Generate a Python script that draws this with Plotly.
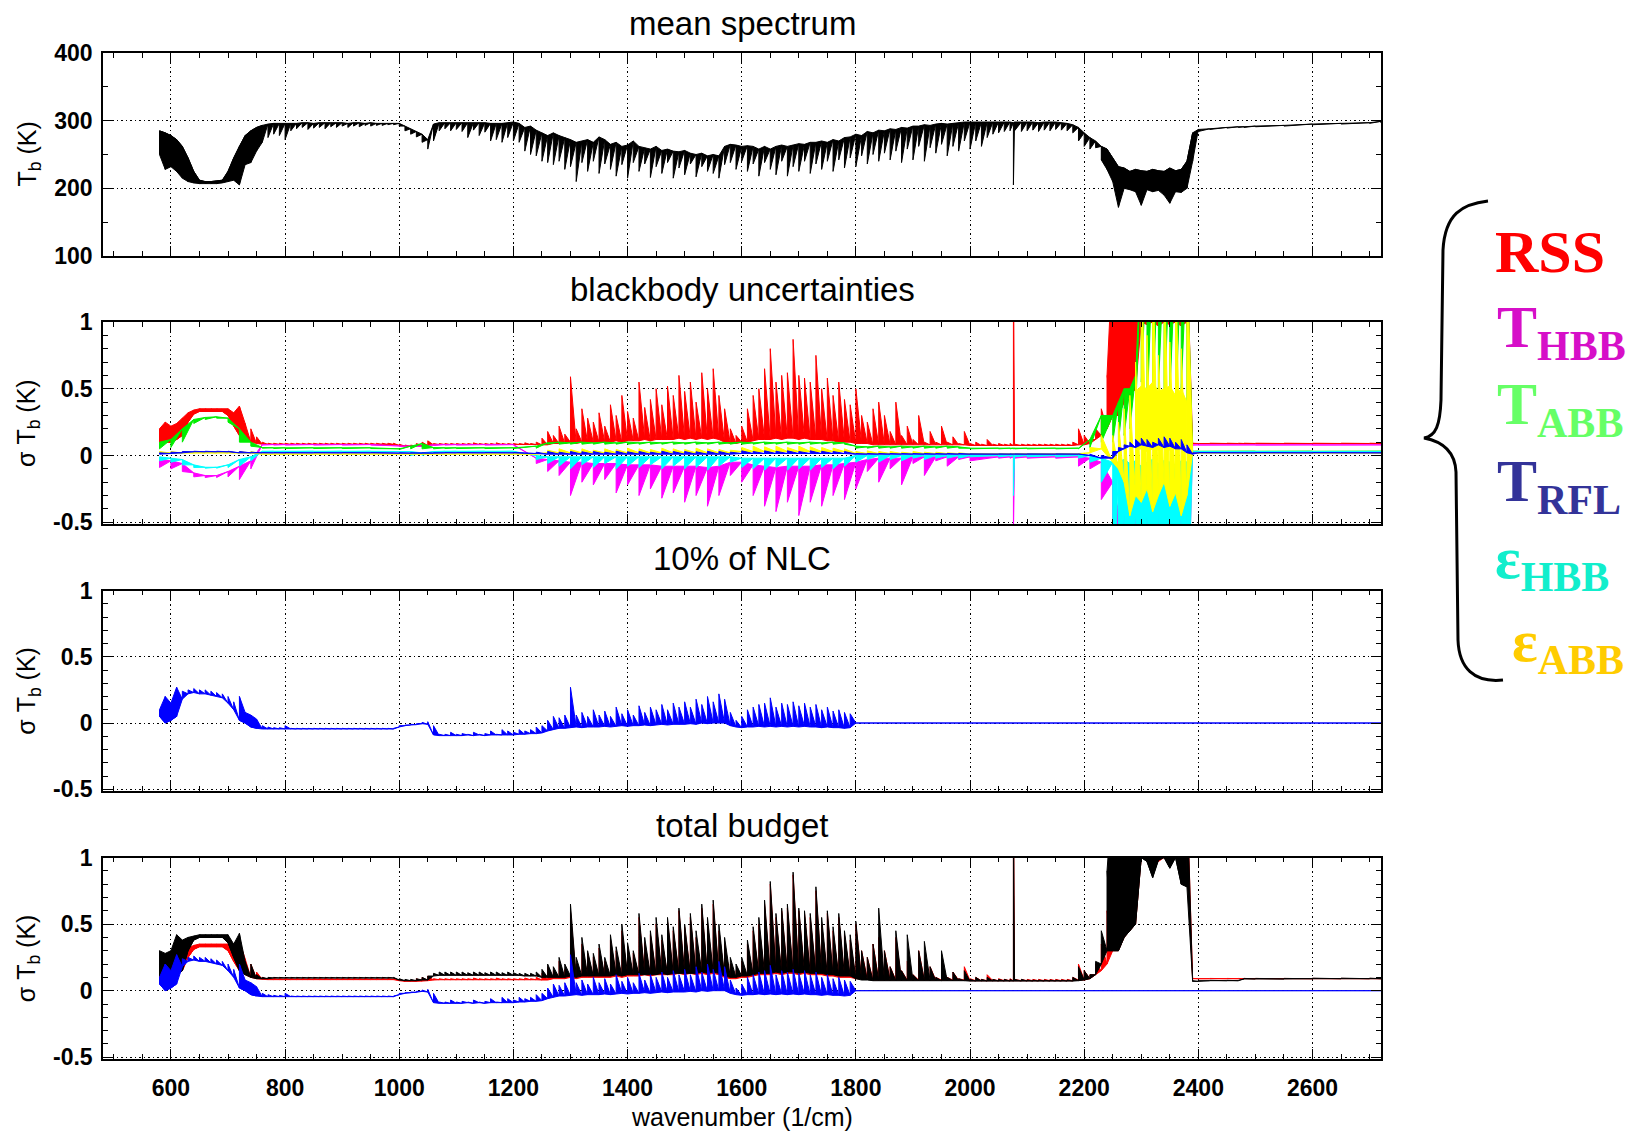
import plotly.graph_objects as go

# ---------------- data ----------------
# common wavenumber grid (1/cm) for the dense spectra
wn = [580, 590,
      600, 610, 620, 630, 640, 650, 660, 670, 680, 690,
      700, 710, 720, 730, 740, 750, 760, 770, 780, 790,
      800, 810, 820, 830, 840, 850, 860, 870, 880, 890,
      900, 910, 920, 930, 940, 950, 960, 970, 980, 990,
      1000, 1010, 1020, 1030, 1040, 1050, 1060, 1070, 1080, 1090,
      1100, 1110, 1120, 1130, 1140, 1150, 1160, 1170, 1180, 1190,
      1200, 1210, 1220, 1230, 1240, 1250, 1260, 1270, 1280, 1290,
      1300, 1310, 1320, 1330, 1340, 1350, 1360, 1370, 1380, 1390,
      1400, 1410, 1420, 1430, 1440, 1450, 1460, 1470, 1480, 1490,
      1500, 1510, 1520, 1530, 1540, 1550, 1560, 1570, 1580, 1590,
      1600, 1610, 1620, 1630, 1640, 1650, 1660, 1670, 1680, 1690,
      1700, 1710, 1720, 1730, 1740, 1750, 1760, 1770, 1780, 1790,
      1800, 1810, 1820, 1830, 1840, 1850, 1860, 1870, 1880, 1890,
      1900, 1910, 1920, 1930, 1940, 1950, 1960, 1970, 1980, 1990,
      2000, 2010, 2020, 2030, 2040, 2050, 2060, 2070, 2076, 2078, 2090,
      2100, 2110, 2120, 2130, 2140, 2150, 2160, 2170, 2180, 2190,
      2200, 2210, 2220, 2230, 2240, 2250, 2260, 2270, 2280, 2290,
      2300, 2310, 2320, 2330, 2340, 2350, 2360, 2370, 2380, 2390,
      2400,
      2420, 2450, 2470, 2480, 2500, 2550, 2600, 2650, 2700, 2720]

# mean spectrum Tb (K): lower / upper envelope per wavenumber
mean_lo = [250, 228,
           232, 225, 215, 210, 208, 207, 207, 207, 207, 208,
           210, 212, 205, 235, 238, 255, 268, 275, 280, 278,
           272, 285, 288, 290, 287, 289, 290, 288, 291, 290,
           292, 290, 292, 291, 293, 292, 293, 293, 294, 294,
           292, 285, 280, 276, 268, 258, 270, 285, 288, 285,
           287, 284, 275, 286, 278, 283, 270, 272, 268, 275,
           270, 268, 255, 250, 248, 240, 238, 235, 240, 228,
           232, 210, 238, 225, 240, 222, 236, 228, 218, 235,
           215, 238, 225, 236, 216, 232, 222, 238, 215, 230,
           220, 236, 217, 232, 225, 222, 215, 235, 238, 228,
           240, 225, 236, 218, 238, 228, 220, 240, 218, 232,
           225, 240, 222, 236, 228, 240, 225, 242, 230, 245,
           232, 248, 236, 250, 240, 252, 242, 255, 238, 258,
           242, 262, 240, 260, 252, 265, 248, 262, 255, 270,
           258, 270, 262, 275, 280, 282, 284, 285, 205, 285, 284,
           285, 286, 284, 286, 285, 287, 286, 285, 282, 270,
           262, 258, 260, 242, 228, 210, 172, 200, 198, 195,
           175, 198, 195, 197, 190, 178, 195, 194, 200, 240,
           284,
           287, 289, 290, 290, 291, 292, 294, 295, 296, 297]
mean_hi = [285, 282,
           278, 272, 262, 245, 225, 212, 210, 210, 211, 212,
           225, 245, 262, 278, 285, 290, 293, 295, 296, 296,
           296, 296, 296, 297, 297, 296, 297, 297, 297, 297,
           297, 296, 297, 297, 296, 297, 296, 296, 296, 296,
           296, 292, 288, 284, 280, 272, 295, 297, 297, 297,
           297, 297, 297, 297, 297, 297, 296, 296, 296, 297,
           298, 296, 290, 292, 286, 282, 278, 282, 278, 275,
           272, 268, 270, 272, 268, 276, 272, 265, 268, 262,
           264, 270, 262, 260, 258, 262, 256, 258, 255, 254,
           256, 252, 250, 252, 248, 250, 248, 262, 265, 264,
           262, 263, 262, 258, 262, 258, 262, 264, 262, 264,
           266, 265, 268, 268, 270, 268, 272, 270, 275, 276,
           280, 278, 284, 282, 286, 285, 288, 287, 290, 289,
           292, 292, 294, 293, 295, 296, 295, 296, 297, 298,
           298, 298, 298, 298, 298, 298, 298, 298, 297, 298, 298,
           298, 298, 297, 298, 298, 298, 297, 296, 294, 290,
           282, 275, 270, 262, 258, 245, 232, 230, 225, 228,
           226, 225, 228, 226, 225, 230, 226, 228, 240, 282,
           287,
           288, 290, 291, 291, 292, 293, 295, 296, 297, 299]

# RSS of blackbody uncertainties (K)
rss_lo = [0.08, 0.10,
          0.10, 0.12, 0.15, 0.25, 0.31, 0.33, 0.33, 0.33, 0.33, 0.33,
          0.30, 0.22, 0.15, 0.12, 0.10, 0.09, 0.085, 0.083, 0.083, 0.083,
          0.083, 0.083, 0.083, 0.083, 0.083, 0.083, 0.083, 0.083, 0.083, 0.083,
          0.083, 0.083, 0.083, 0.083, 0.083, 0.083, 0.083, 0.083, 0.083, 0.083,
          0.075, 0.07, 0.07, 0.07, 0.072, 0.075, 0.08, 0.082, 0.082, 0.082,
          0.082, 0.082, 0.082, 0.082, 0.082, 0.082, 0.082, 0.082, 0.082, 0.082,
          0.082, 0.082, 0.082, 0.082, 0.082, 0.08, 0.08, 0.09, 0.09, 0.09,
          0.10, 0.09, 0.10, 0.10, 0.10, 0.10, 0.10, 0.10, 0.11, 0.10,
          0.11, 0.11, 0.11, 0.12, 0.11, 0.12, 0.12, 0.12, 0.12, 0.13,
          0.12, 0.13, 0.12, 0.13, 0.12, 0.13, 0.12, 0.10, 0.09, 0.09,
          0.10, 0.10, 0.11, 0.12, 0.12, 0.12, 0.13, 0.12, 0.13, 0.13,
          0.12, 0.13, 0.12, 0.12, 0.12, 0.11, 0.11, 0.10, 0.10, 0.10,
          0.09, 0.09, 0.09, 0.08, 0.08, 0.08, 0.08, 0.08, 0.08, 0.08,
          0.08, 0.08, 0.08, 0.08, 0.08, 0.08, 0.08, 0.08, 0.08, 0.08,
          0.075, 0.075, 0.075, 0.075, 0.075, 0.075, 0.075, 0.075, 0.075, 0.075, 0.075,
          0.075, 0.075, 0.075, 0.075, 0.075, 0.075, 0.075, 0.075, 0.075, 0.08,
          0.08, 0.09, 0.12, 0.15, 0.20, 0.30, 0.30, 0.40, 0.45, 0.50,
          1.00, 0.98, 1.00, 0.97, 1.00, 0.98, 1.00, 0.97, 1.00, 0.09,
          0.09,
          0.09, 0.09, 0.09, 0.09, 0.09, 0.09, 0.09, 0.09, 0.09, 0.09]
rss_hi = [0.20, 0.25,
          0.22, 0.24, 0.28, 0.32, 0.34, 0.35, 0.35, 0.35, 0.35, 0.35,
          0.35, 0.32, 0.37, 0.24, 0.20, 0.14, 0.10, 0.092, 0.092, 0.092,
          0.092, 0.092, 0.092, 0.092, 0.092, 0.092, 0.092, 0.092, 0.092, 0.092,
          0.092, 0.092, 0.092, 0.092, 0.092, 0.092, 0.092, 0.092, 0.092, 0.092,
          0.085, 0.078, 0.078, 0.09, 0.10, 0.11, 0.09, 0.09, 0.09, 0.09,
          0.09, 0.09, 0.09, 0.095, 0.09, 0.09, 0.09, 0.095, 0.09, 0.09,
          0.09, 0.09, 0.095, 0.09, 0.10, 0.13, 0.18, 0.15, 0.22, 0.16,
          0.59, 0.20, 0.35, 0.28, 0.25, 0.32, 0.22, 0.38, 0.30, 0.45,
          0.33, 0.28, 0.55, 0.36, 0.42, 0.50, 0.38, 0.52, 0.45, 0.60,
          0.48, 0.55, 0.40, 0.62, 0.50, 0.65, 0.45, 0.35, 0.20, 0.15,
          0.22, 0.35, 0.45, 0.50, 0.65, 0.80, 0.55, 0.60, 0.62, 0.87,
          0.60, 0.58, 0.55, 0.75, 0.50, 0.58, 0.45, 0.55, 0.42, 0.38,
          0.50, 0.30, 0.25, 0.35, 0.40, 0.30, 0.18, 0.40, 0.15, 0.22,
          0.12, 0.30, 0.10, 0.18, 0.10, 0.22, 0.10, 0.14, 0.09, 0.18,
          0.09, 0.10, 0.085, 0.12, 0.085, 0.09, 0.085, 0.09, 1.50, 0.085, 0.085,
          0.085, 0.085, 0.085, 0.085, 0.085, 0.085, 0.085, 0.085, 0.10, 0.20,
          0.15, 0.12, 0.20, 0.35, 0.60, 1.50, 1.50, 1.50, 1.50, 1.50,
          1.50, 1.50, 1.50, 1.50, 1.50, 1.50, 1.50, 1.50, 1.50, 0.092,
          0.09,
          0.092, 0.092, 0.092, 0.092, 0.092, 0.092, 0.092, 0.092, 0.092, 0.092]

# total budget (K)
total_lo = [0.11, 0.10,
            0.10, 0.12, 0.15, 0.30, 0.38, 0.40, 0.40, 0.40, 0.40, 0.40,
            0.36, 0.25, 0.15, 0.12, 0.10, 0.09, 0.09, 0.09, 0.095, 0.095,
            0.095, 0.095, 0.095, 0.095, 0.095, 0.095, 0.095, 0.095, 0.095, 0.095,
            0.095, 0.095, 0.095, 0.095, 0.095, 0.095, 0.095, 0.095, 0.095, 0.095,
            0.08, 0.075, 0.075, 0.075, 0.08, 0.08, 0.11, 0.115, 0.115, 0.115,
            0.115, 0.115, 0.115, 0.115, 0.115, 0.115, 0.115, 0.115, 0.115, 0.115,
            0.115, 0.115, 0.11, 0.11, 0.11, 0.10, 0.10, 0.10, 0.10, 0.10,
            0.11, 0.10, 0.11, 0.11, 0.11, 0.11, 0.11, 0.11, 0.12, 0.11,
            0.12, 0.12, 0.12, 0.12, 0.12, 0.12, 0.13, 0.12, 0.13, 0.13,
            0.13, 0.13, 0.13, 0.14, 0.13, 0.14, 0.13, 0.11, 0.10, 0.10,
            0.11, 0.11, 0.12, 0.13, 0.13, 0.13, 0.14, 0.13, 0.14, 0.14,
            0.13, 0.14, 0.13, 0.13, 0.13, 0.12, 0.12, 0.11, 0.11, 0.11,
            0.09, 0.08, 0.08, 0.075, 0.075, 0.075, 0.075, 0.075, 0.075, 0.075,
            0.075, 0.075, 0.075, 0.075, 0.075, 0.075, 0.075, 0.075, 0.075, 0.075,
            0.072, 0.072, 0.072, 0.072, 0.072, 0.072, 0.072, 0.072, 0.072, 0.072, 0.072,
            0.072, 0.072, 0.072, 0.072, 0.072, 0.072, 0.072, 0.072, 0.072, 0.075,
            0.08, 0.09, 0.12, 0.20, 0.30, 0.30, 0.30, 0.40, 0.45, 0.50,
            1.00, 0.97, 0.85, 0.98, 1.00, 0.92, 1.00, 0.80, 0.78, 0.07,
            0.07,
            0.075, 0.075, 0.075, 0.088, 0.088, 0.088, 0.09, 0.09, 0.09, 0.09]
total_hi = [0.30, 0.28,
            0.30, 0.42, 0.38, 0.40, 0.41, 0.42, 0.42, 0.42, 0.42, 0.42,
            0.42, 0.35, 0.43, 0.22, 0.20, 0.12, 0.10, 0.10, 0.10, 0.10,
            0.10, 0.10, 0.10, 0.10, 0.10, 0.10, 0.10, 0.10, 0.10, 0.10,
            0.10, 0.10, 0.10, 0.10, 0.10, 0.10, 0.10, 0.10, 0.10, 0.10,
            0.09, 0.085, 0.085, 0.09, 0.10, 0.11, 0.13, 0.14, 0.14, 0.14,
            0.14, 0.14, 0.135, 0.14, 0.14, 0.135, 0.14, 0.14, 0.135, 0.14,
            0.135, 0.13, 0.13, 0.13, 0.14, 0.16, 0.20, 0.18, 0.25, 0.20,
            0.65, 0.25, 0.40, 0.30, 0.28, 0.35, 0.25, 0.42, 0.33, 0.50,
            0.36, 0.30, 0.58, 0.40, 0.45, 0.55, 0.42, 0.55, 0.48, 0.62,
            0.50, 0.58, 0.45, 0.65, 0.55, 0.68, 0.50, 0.40, 0.25, 0.20,
            0.25, 0.38, 0.48, 0.55, 0.68, 0.82, 0.58, 0.62, 0.65, 0.89,
            0.62, 0.60, 0.58, 0.78, 0.55, 0.60, 0.48, 0.58, 0.45, 0.42,
            0.52, 0.30, 0.25, 0.35, 0.62, 0.30, 0.18, 0.45, 0.15, 0.42,
            0.12, 0.30, 0.37, 0.18, 0.10, 0.30, 0.10, 0.14, 0.09, 0.15,
            0.085, 0.10, 0.085, 0.10, 0.085, 0.085, 0.085, 0.085, 1.50, 0.085, 0.085,
            0.08, 0.08, 0.08, 0.08, 0.08, 0.08, 0.08, 0.08, 0.10, 0.18,
            0.15, 0.12, 0.22, 0.45, 0.90, 1.50, 1.50, 1.50, 1.50, 1.50,
            1.50, 1.50, 1.50, 1.50, 1.50, 1.50, 1.50, 1.50, 1.50, 0.075,
            0.075,
            0.078, 0.078, 0.078, 0.092, 0.092, 0.092, 0.094, 0.094, 0.094, 0.094]

# 10% of non-linearity correction (K): 580-1790 dense, then flat zero to 2720
nlc_wn_tail = [1800, 2720]
nlc_lo = [0.05, 0.00,
          0.02, 0.05, 0.18, 0.22, 0.23, 0.22, 0.22, 0.21, 0.20, 0.19,
          0.15, 0.10, 0.02, 0.00, -0.03, -0.04, -0.045, -0.045, -0.045, -0.045,
          -0.045, -0.045, -0.045, -0.045, -0.045, -0.045, -0.045, -0.045, -0.045, -0.045,
          -0.045, -0.045, -0.045, -0.045, -0.045, -0.045, -0.045, -0.045, -0.045, -0.045,
          -0.03, -0.02, -0.015, -0.012, -0.005, -0.01, -0.09, -0.095, -0.095, -0.095,
          -0.095, -0.095, -0.09, -0.095, -0.09, -0.095, -0.09, -0.09, -0.09, -0.09,
          -0.09, -0.085, -0.085, -0.08, -0.08, -0.075, -0.06, -0.05, -0.04, -0.04,
          -0.035, -0.03, -0.035, -0.03, -0.03, -0.03, -0.025, -0.03, -0.025, -0.02,
          -0.025, -0.02, -0.02, -0.015, -0.02, -0.015, -0.01, -0.015, -0.01, -0.01,
          -0.01, -0.005, -0.01, 0.0, -0.005, 0.0, 0.0, 0.0, -0.02, -0.03,
          -0.035, -0.03, -0.03, -0.025, -0.03, -0.025, -0.03, -0.025, -0.03, -0.025,
          -0.03, -0.025, -0.03, -0.03, -0.035, -0.03, -0.035, -0.035, -0.04, -0.035,
          0.0, 0.0]
nlc_hi = [0.10, 0.20,
          0.15, 0.27, 0.24, 0.25, 0.26, 0.25, 0.25, 0.24, 0.23, 0.22,
          0.20, 0.16, 0.20, 0.08, 0.06, 0.03, -0.02, -0.03, -0.035, -0.035,
          -0.02, -0.04, -0.04, -0.04, -0.04, -0.04, -0.04, -0.04, -0.04, -0.04,
          -0.04, -0.04, -0.04, -0.04, -0.04, -0.04, -0.04, -0.04, -0.04, -0.04,
          -0.02, -0.015, -0.01, -0.005, 0.005, 0.01, -0.02, -0.085, -0.085, -0.07,
          -0.085, -0.08, -0.085, -0.07, -0.085, -0.08, -0.06, -0.085, -0.05, -0.06,
          -0.07, -0.05, -0.06, -0.05, -0.03, -0.02, 0.02, 0.05, 0.04, 0.06,
          0.27, 0.06, 0.08, 0.05, 0.10, 0.06, 0.09, 0.05, 0.12, 0.07,
          0.10, 0.06, 0.13, 0.08, 0.12, 0.10, 0.14, 0.10, 0.15, 0.12,
          0.16, 0.12, 0.18, 0.14, 0.20, 0.16, 0.22, 0.18, 0.08, 0.02,
          0.05, 0.10, 0.12, 0.14, 0.15, 0.19, 0.12, 0.15, 0.14, 0.16,
          0.13, 0.15, 0.12, 0.14, 0.10, 0.12, 0.09, 0.10, 0.08, 0.07,
          0.0, 0.0]

# coarser grid for the individual blackbody terms
wn_bb = [580, 600, 620, 640, 660, 680, 700, 720, 740, 760, 780,
         800, 850, 900, 950, 1000, 1020, 1040, 1060, 1080, 1100, 1150, 1200, 1240,
         1260, 1280, 1300, 1320, 1340, 1360, 1380, 1400, 1420, 1440,
         1460, 1480, 1500, 1520, 1540, 1560, 1580, 1600, 1620, 1640,
         1660, 1680, 1700, 1720, 1740, 1760, 1780, 1800, 1820, 1840,
         1860, 1880, 1900, 1920, 1940, 1960, 1980,
         2000, 2050, 2070, 2076, 2078, 2100, 2150, 2190, 2210, 2230, 2250,
         2260, 2270, 2280, 2290, 2300, 2310, 2320, 2330, 2340, 2350, 2360, 2370, 2380,
         2390, 2400, 2500, 2600, 2720]

thbb_lo = [-0.09, -0.10, -0.12, -0.16, -0.165, -0.165, -0.16, -0.18, -0.10, 0.078, 0.078,
           0.078, 0.078, 0.078, 0.078, 0.068, 0.066, 0.066, 0.075, 0.078, 0.078, 0.078, 0.078, -0.06,
           -0.12, -0.15, -0.30, -0.20, -0.22, -0.18, -0.28, -0.22, -0.30, -0.25,
           -0.32, -0.28, -0.35, -0.30, -0.38, -0.30, -0.15, -0.20, -0.30, -0.38,
           -0.42, -0.35, -0.45, -0.35, -0.38, -0.30, -0.33, -0.25, -0.12, -0.20,
           -0.10, -0.22, -0.06, -0.15, -0.04, -0.08, -0.03,
           -0.04, -0.02, -0.02, -0.60, -0.02, -0.02, -0.02, -0.08, -0.10, -0.33, -1.5,
           -1.5, -1.5, -1.5, -1.5, -1.5, -1.5, -1.5, -1.5, -1.5, -1.5, -1.5, -1.5, -1.5,
           0.078, 0.078, 0.078, 0.078, 0.078]
thbb_hi = [-0.03, -0.04, -0.06, -0.13, -0.15, -0.15, -0.12, -0.08, -0.04, 0.082, 0.082,
           0.082, 0.082, 0.082, 0.082, 0.072, 0.07, 0.07, 0.08, 0.082, 0.082, 0.082, 0.082, -0.02,
           -0.03, -0.04, -0.05, -0.05, -0.06, -0.06, -0.06, -0.07, -0.07, -0.07,
           -0.08, -0.08, -0.08, -0.08, -0.09, -0.08, -0.05, -0.05, -0.07, -0.08,
           -0.09, -0.08, -0.08, -0.08, -0.07, -0.07, -0.06, -0.05, -0.03, -0.02,
           -0.02, -0.02, -0.01, -0.01, -0.01, -0.01, -0.01,
           -0.01, -0.01, -0.01, -0.01, -0.01, -0.01, -0.01, -0.01, -0.02, -0.05, -0.20,
           -0.42, -0.40, -0.45, -0.42, -0.40, -0.44, -0.42, -0.40, -0.45, -0.42, -0.40, -0.44, -0.42,
           0.08, 0.08, 0.08, 0.08, 0.08]

tabb_lo = [0.05, 0.06, 0.10, 0.24, 0.27, 0.28, 0.25, 0.10, 0.07, 0.055, 0.052,
           0.052, 0.052, 0.052, 0.052, 0.045, 0.05, 0.05, 0.05, 0.052, 0.052, 0.052, 0.052, 0.055,
           0.085, 0.085, 0.085, 0.085, 0.085, 0.085, 0.085, 0.085, 0.085, 0.085,
           0.085, 0.085, 0.085, 0.085, 0.085, 0.085, 0.085, 0.085, 0.085, 0.085,
           0.085, 0.085, 0.085, 0.085, 0.085, 0.085, 0.085, 0.055, 0.055, 0.055,
           0.055, 0.055, 0.055, 0.055, 0.055, 0.055, 0.055,
           0.05, 0.05, 0.05, 0.05, 0.05, 0.05, 0.05, 0.05, 0.06, 0.10, 0.10,
           0.10, 0.15, 0.20, 0.30, 0.55, 0.30, 0.40, 0.50, 0.35, 0.45, 0.30, 0.50, 0.40,
           0.03, 0.03, 0.03, 0.03, 0.03]
tabb_hi = [0.10, 0.12, 0.20, 0.27, 0.285, 0.29, 0.28, 0.20, 0.10, 0.06, 0.058,
           0.058, 0.058, 0.058, 0.058, 0.05, 0.07, 0.09, 0.06, 0.058, 0.058, 0.058, 0.058, 0.07,
           0.095, 0.10, 0.095, 0.10, 0.095, 0.10, 0.095, 0.10, 0.095, 0.10,
           0.095, 0.10, 0.095, 0.10, 0.095, 0.10, 0.095, 0.10, 0.095, 0.10,
           0.095, 0.10, 0.095, 0.10, 0.095, 0.10, 0.095, 0.07, 0.065, 0.07,
           0.065, 0.07, 0.065, 0.07, 0.065, 0.07, 0.065,
           0.055, 0.055, 0.055, 0.055, 0.055, 0.055, 0.055, 0.055, 0.12, 0.30, 0.30,
           0.40, 0.50, 0.50, 0.60, 1.5, 1.5, 1.5, 1.5, 1.5, 1.5, 1.5, 1.5, 1.5,
           0.032, 0.032, 0.032, 0.032, 0.032]

trfl_lo = [0.01, 0.015, 0.02, 0.028, 0.028, 0.028, 0.028, 0.02, 0.02, 0.02, 0.02,
           0.02, 0.02, 0.02, 0.02, 0.018, 0.018, 0.018, 0.018, 0.02, 0.02, 0.02, 0.02, 0.015,
           0.01, 0.01, 0.01, 0.01, 0.01, 0.01, 0.01, 0.01, 0.01, 0.01,
           0.01, 0.01, 0.01, 0.01, 0.01, 0.01, 0.01, 0.015, 0.015, 0.015,
           0.015, 0.015, 0.015, 0.015, 0.015, 0.015, 0.015, 0.01, 0.01, 0.01,
           0.01, 0.01, 0.01, 0.01, 0.01, 0.01, 0.01,
           0.01, 0.01, 0.01, 0.01, 0.01, 0.01, 0.01, 0.01, 0.0, -0.02, -0.02,
           0.03, 0.05, 0.07, 0.06, 0.08, 0.07, 0.06, 0.08, 0.06, 0.07, 0.05, 0.05, 0.02,
           0.01, 0.02, 0.02, 0.02, 0.02]
trfl_hi = [0.02, 0.025, 0.03, 0.032, 0.032, 0.032, 0.032, 0.03, 0.025, 0.022, 0.022,
           0.022, 0.022, 0.022, 0.022, 0.02, 0.02, 0.02, 0.02, 0.022, 0.022, 0.022, 0.022, 0.025,
           0.03, 0.025, 0.03, 0.028, 0.03, 0.025, 0.032, 0.028, 0.03, 0.025,
           0.032, 0.03, 0.03, 0.028, 0.032, 0.03, 0.025, 0.035, 0.03, 0.035,
           0.032, 0.035, 0.03, 0.035, 0.032, 0.03, 0.03, 0.015, 0.015, 0.015,
           0.015, 0.015, 0.015, 0.015, 0.015, 0.015, 0.015,
           0.012, 0.012, 0.012, 0.012, 0.012, 0.012, 0.012, 0.012, 0.01, 0.0, 0.03,
           0.06, 0.08, 0.10, 0.12, 0.13, 0.12, 0.10, 0.13, 0.14, 0.13, 0.10, 0.12, 0.08,
           0.02, 0.022, 0.022, 0.022, 0.022]

ehbb_lo = [-0.04, -0.05, -0.07, -0.09, -0.095, -0.095, -0.09, -0.08, -0.04, 0.028, 0.028,
           0.028, 0.028, 0.028, 0.028, 0.025, 0.0, 0.0, 0.02, 0.028, 0.028, 0.028, 0.028, -0.03,
           -0.06, -0.08, -0.10, -0.07, -0.09, -0.06, -0.10, -0.08, -0.09, -0.07,
           -0.10, -0.08, -0.10, -0.09, -0.11, -0.08, -0.05, -0.09, -0.10, -0.11,
           -0.09, -0.11, -0.10, -0.11, -0.09, -0.10, -0.08, -0.05, -0.03, -0.05,
           -0.03, -0.04, -0.02, -0.03, -0.02, -0.02, -0.02,
           -0.01, -0.01, -0.01, -0.30, -0.01, -0.01, -0.01, -0.02, -0.05, -0.20, -1.5,
           -1.5, -0.45, -1.5, -0.42, -1.5, -0.46, -1.5, -0.44, -1.5, -0.45, -1.5, -0.43, -1.5,
           0.026, 0.026, 0.026, 0.026, 0.026]
ehbb_hi = [-0.01, -0.02, -0.03, -0.07, -0.088, -0.088, -0.07, -0.03, -0.01, 0.032, 0.032,
           0.032, 0.032, 0.032, 0.032, 0.03, 0.03, 0.02, 0.03, 0.032, 0.032, 0.032, 0.032, 0.0,
           -0.01, -0.01, -0.01, -0.01, -0.01, -0.01, -0.01, -0.01, -0.01, -0.01,
           -0.01, -0.01, -0.01, -0.01, -0.01, -0.01, -0.01, -0.02, -0.02, -0.02,
           -0.02, -0.02, -0.02, -0.02, -0.02, -0.02, -0.02, 0.0, 0.0, 0.0,
           0.0, 0.0, 0.0, 0.0, 0.0, 0.0, 0.0,
           0.0, 0.0, 0.0, 0.0, 0.0, 0.0, 0.0, 0.0, 0.0, -0.02, -0.05,
           -0.05, -0.03, -0.06, -0.04, -0.08, -0.05, -0.03, -0.06, -0.04, -0.05, -0.07, -0.04, -0.05,
           0.03, 0.03, 0.03, 0.03, 0.03]

eabb_lo = [0.018, 0.018, 0.018, 0.018, 0.018, 0.018, 0.018, 0.018, 0.018, 0.01, 0.01,
           0.01, 0.01, 0.01, 0.01, 0.01, 0.01, 0.01, 0.01, 0.01, 0.01, 0.01, 0.01, 0.01,
           0.02, 0.02, 0.02, 0.02, 0.02, 0.02, 0.02, 0.02, 0.02, 0.02,
           0.02, 0.02, 0.02, 0.02, 0.02, 0.02, 0.02, 0.03, 0.03, 0.03,
           0.03, 0.03, 0.03, 0.03, 0.03, 0.03, 0.03, 0.015, 0.015, 0.015,
           0.015, 0.015, 0.015, 0.015, 0.015, 0.015, 0.015,
           0.012, 0.012, 0.012, 0.012, 0.012, 0.012, 0.012, 0.012, 0.02, 0.05, -0.05,
           -0.10, -0.20, -0.45, -0.30, -0.35, -0.25, -0.42, -0.30, -0.20, -0.38, -0.28, -0.45, -0.30,
           0.018, 0.018, 0.018, 0.018, 0.018]
eabb_hi = [0.03, 0.03, 0.03, 0.03, 0.03, 0.03, 0.03, 0.03, 0.03, 0.013, 0.013,
           0.013, 0.013, 0.013, 0.013, 0.013, 0.013, 0.013, 0.013, 0.013, 0.013, 0.013, 0.013, 0.013,
           0.04, 0.05, 0.045, 0.05, 0.04, 0.05, 0.045, 0.055, 0.05, 0.045,
           0.055, 0.05, 0.045, 0.055, 0.05, 0.045, 0.04, 0.06, 0.07, 0.065,
           0.07, 0.06, 0.07, 0.065, 0.06, 0.055, 0.05, 0.03, 0.035, 0.03,
           0.03, 0.025, 0.03, 0.025, 0.025, 0.02, 0.02,
           0.015, 0.015, 0.015, 0.015, 0.015, 0.015, 0.015, 0.015, 0.06, 0.15, 0.15,
           0.25, 0.35, 0.45, 0.70, 1.5, 0.9, 1.5, 0.75, 1.5, 0.85, 1.5, 0.8, 1.5,
           0.02, 0.02, 0.02, 0.02, 0.02]
# the densely filled core of the eps_ABB term inside the saturated CO2 band
eabb_core_wn = [2290, 2300, 2310, 2320, 2330, 2340, 2350, 2360, 2370, 2380]
eabb_core_lo = [0.04, 0.05, 0.03, 0.05, 0.04, 0.06, 0.04, 0.05, 0.06, 0.08]
eabb_core_hi = [0.48, 0.52, 0.50, 0.55, 0.48, 0.50, 0.52, 0.45, 0.50, 0.40]

panel_titles = ["mean spectrum", "blackbody uncertainties", "10% of NLC", "total budget"]
legend_items = [("RSS", "", "#ff0000"), ("T", "HBB", "#d60fc8"), ("T", "ABB", "#66ff66"),
                ("T", "RFL", "#333399"), ("\u03b5", "HBB", "#11eecc"), ("\u03b5", "ABB", "#ffcc00")]

# ---------------- sanity checks ----------------
nlc_wn = [w for w in wn if w < 1800] + nlc_wn_tail
for name, xs, a, b in [("mean", wn, mean_lo, mean_hi), ("rss", wn, rss_lo, rss_hi),
                       ("total", wn, total_lo, total_hi), ("nlc", nlc_wn, nlc_lo, nlc_hi),
                       ("thbb", wn_bb, thbb_lo, thbb_hi), ("tabb", wn_bb, tabb_lo, tabb_hi),
                       ("trfl", wn_bb, trfl_lo, trfl_hi), ("ehbb", wn_bb, ehbb_lo, ehbb_hi),
                       ("eabb", wn_bb, eabb_lo, eabb_hi),
                       ("core", eabb_core_wn, eabb_core_lo, eabb_core_hi)]:
    assert len(xs) == len(a) == len(b), (name, len(xs), len(a), len(b))


def spike_area(x, lo, hi, down):
    """Spectral lines drawn as sharp spikes rising from the base envelope: at each sample a
    vertical edge to the spike envelope, then back to the next base value; closed along the base."""
    pts = list(zip(x, lo, hi))
    xs, ys = [], []
    for w, a, b in pts:
        base, tip = (b, a) if down else (a, b)
        xs += [w, w]
        ys += [base, tip]
    for w, a, b in reversed(pts):
        xs.append(w)
        ys.append(b if down else a)
    return xs, ys


def band(x, lo, hi, xmin, xmax):
    """Closed outline between the two envelopes inside [xmin, xmax] (dense, solid-looking parts)."""
    sel = [(w, a, b) for w, a, b in zip(x, lo, hi) if xmin <= w <= xmax]
    xs = [s[0] for s in sel] + [s[0] for s in sel[::-1]]
    ys = [s[2] for s in sel] + [s[1] for s in sel[::-1]]
    return xs, ys


# ---------------- layout geometry (pixels) ----------------
W, H = 1636, 1132
L, R, T, B = 103, 1381, 53, 1059
panels_px = [(53, 256), (322, 524), (590.5, 791), (857.5, 1059)]


def fx(p):
    return (p - L) / (R - L)


def fy(p):
    return (B - p) / (B - T)


fig = go.Figure()


def axes(n):
    return ("x" if n == 1 else f"x{n}"), ("y" if n == 1 else f"y{n}")


def add_spikes(x, lo, hi, color, n, down=False, width=1.0):
    xs, ys = spike_area(x, lo, hi, down)
    xa, ya = axes(n)
    fig.add_trace(go.Scatter(x=xs, y=ys, mode="lines", fill="toself", fillcolor=color,
                             line=dict(color=color, width=width, simplify=False),
                             xaxis=xa, yaxis=ya, hoverinfo="skip", showlegend=False))


def add_band(x, lo, hi, color, n, xmin, xmax, width=1.0):
    xs, ys = band(x, lo, hi, xmin, xmax)
    xa, ya = axes(n)
    fig.add_trace(go.Scatter(x=xs, y=ys, mode="lines", fill="toself", fillcolor=color,
                             line=dict(color=color, width=width, simplify=False),
                             xaxis=xa, yaxis=ya, hoverinfo="skip", showlegend=False))


# panel 1: mean spectrum
add_band(wn, mean_lo, mean_hi, "black", 1, 580, 760)
add_band(wn, mean_lo, mean_hi, "black", 1, 2230, 2390)
add_spikes(wn, mean_lo, mean_hi, "black", 1, down=True)

# panel 2: blackbody uncertainty terms
add_spikes(wn, rss_lo, rss_hi, "#ff0000", 2)
add_band(wn, rss_lo, rss_hi, "#ff0000", 2, 580, 730)
add_band(wn, rss_lo, rss_hi, "#ff0000", 2, 2240, 2295)
add_spikes(wn_bb, thbb_lo, thbb_hi, "#ff00ff", 2, down=True)
add_spikes(wn_bb, tabb_lo, tabb_hi, "#00ee00", 2, down=True)
add_spikes(wn_bb, ehbb_lo, ehbb_hi, "#00ffff", 2, down=True)
add_band(wn_bb, ehbb_lo, ehbb_hi, "#00ffff", 2, 2260, 2380)
add_band(eabb_core_wn, eabb_core_lo, eabb_core_hi, "#ffff00", 2, 2290, 2380)
add_spikes(wn_bb, eabb_lo, eabb_hi, "#ffff00", 2)
add_spikes(wn_bb, trfl_lo, trfl_hi, "#0000ff", 2)

# panel 3: NLC
add_band(nlc_wn, nlc_lo, nlc_hi, "#0000ff", 3, 580, 610)
add_band(nlc_wn, nlc_lo, nlc_hi, "#0000ff", 3, 720, 750)
add_spikes(nlc_wn, nlc_lo, nlc_hi, "#0000ff", 3)

# panel 4: total budget
add_spikes(wn, rss_lo, rss_hi, "#ff0000", 4)
add_band(wn, rss_lo, rss_hi, "#ff0000", 4, 580, 730)
add_spikes(wn, total_lo, total_hi, "black", 4)
add_band(wn, total_lo, total_hi, "black", 4, 580, 730)
add_band(wn, total_lo, total_hi, "black", 4, 2240, 2380)
add_band(nlc_wn, nlc_lo, nlc_hi, "#0000ff", 4, 580, 610)
add_band(nlc_wn, nlc_lo, nlc_hi, "#0000ff", 4, 720, 750)
add_spikes(nlc_wn, nlc_lo, nlc_hi, "#0000ff", 4)

tickfont = dict(family="Liberation Sans, Arial, sans-serif", size=23, color="black", weight="bold")
common = dict(showline=True, linecolor="black", linewidth=1.5, mirror="allticks",
              ticks="inside", ticklen=10, tickwidth=1.2, tickcolor="black",
              showgrid=True, gridcolor="black", griddash="1.5px,3px", gridwidth=1, zeroline=False,
              tickfont=tickfont, fixedrange=True)

layout = dict(width=W, height=H, margin=dict(l=L, r=W - R, t=T, b=H - B, pad=0),
              paper_bgcolor="white", plot_bgcolor="white", showlegend=False,
              font=dict(family="Liberation Sans, Arial, sans-serif", color="black"))

for i, (top, bot) in enumerate(panels_px, start=1):
    xa = "xaxis" if i == 1 else f"xaxis{i}"
    ya = "yaxis" if i == 1 else f"yaxis{i}"
    layout[xa] = dict(common, domain=[0, 1], anchor="y" if i == 1 else f"y{i}",
                      range=[481, 2720], tickmode="linear", tick0=0, dtick=200,
                      showticklabels=(i == 4), ticklabelstandoff=8,
                      minor=dict(ticks="inside", ticklen=5, tickwidth=1, tickcolor="black",
                                 tickmode="linear", tick0=0, dtick=50, showgrid=False))
    if i == 1:
        yrange = dict(range=[100, 400], tickmode="linear", tick0=0, dtick=100,
                      minor=dict(ticks="inside", ticklen=5, tickwidth=1, tickcolor="black",
                                 tickmode="linear", tick0=0, dtick=50, showgrid=False))
    else:
        yrange = dict(range=[-0.513, 1.0], tickmode="array", tickvals=[-0.5, 0, 0.5, 1],
                      ticktext=["-0.5", "0", "0.5", "1"],
                      minor=dict(ticks="inside", ticklen=5, tickwidth=1, tickcolor="black",
                                 tickmode="linear", tick0=0, dtick=0.1, showgrid=False))
    layout[ya] = dict(common, domain=[fy(bot), fy(top)], anchor="x" if i == 1 else f"x{i}",
                      ticklabelstandoff=4, **yrange)

annotations = []
title_y = [24, 290, 558, 825]
for t, yy in zip(panel_titles, title_y):
    annotations.append(dict(text=t, x=fx(742), y=fy(yy), xref="paper", yref="paper",
                            xanchor="center", yanchor="middle", showarrow=False,
                            font=dict(size=33, color="black")))
ytitles = ["T<sub>b</sub> (K)", "\u03c3 T<sub>b</sub> (K)", "\u03c3 T<sub>b</sub> (K)", "\u03c3 T<sub>b</sub> (K)"]
for t, (top, bot) in zip(ytitles, panels_px):
    annotations.append(dict(text=t, x=fx(28), y=fy((top + bot) / 2), xref="paper", yref="paper",
                            xanchor="center", yanchor="middle", textangle=-90, showarrow=False,
                            font=dict(size=25, color="black")))
annotations.append(dict(text="wavenumber (1/cm)", x=fx(742), y=fy(1117), xref="paper", yref="paper",
                        xanchor="center", yanchor="middle", showarrow=False,
                        font=dict(size=25, color="black")))

legend_y = [252, 331, 408, 485, 562, 646]
legend_x = [1493, 1495, 1495, 1495, 1493, 1510]
for (main, sub, col), yy, xx in zip(legend_items, legend_y, legend_x):
    txt = main if not sub else f"{main}<sub>{sub}</sub>"
    annotations.append(dict(text=f"<b>{txt}</b>", x=fx(xx), y=fy(yy), xref="paper", yref="paper",
                            xanchor="left", yanchor="middle", showarrow=False,
                            font=dict(family="Liberation Serif, Times New Roman, serif", size=60, color=col)))
layout["annotations"] = annotations

# curly brace next to the legend (pixel path converted to paper coordinates)
brace_px = [("M", [(1488, 201)]),
            ("C", [(1462, 204), (1445, 214), (1443, 250)]),
            ("L", [(1441, 400)]),
            ("C", [(1440, 425), (1436, 436), (1424, 438)]),
            ("C", [(1440, 441), (1455, 450), (1456, 472)]),
            ("L", [(1458, 640)]),
            ("C", [(1459, 668), (1474, 683), (1503, 680)])]
path = " ".join(cmd + " " + " ".join(f"{fx(a):.5f},{fy(b):.5f}" for a, b in pts) for cmd, pts in brace_px)
layout["shapes"] = [dict(type="path", path=path, xref="paper", yref="paper",
                         line=dict(color="black", width=3))]

fig.update_layout(**layout)
fig.write_html("out.html")
